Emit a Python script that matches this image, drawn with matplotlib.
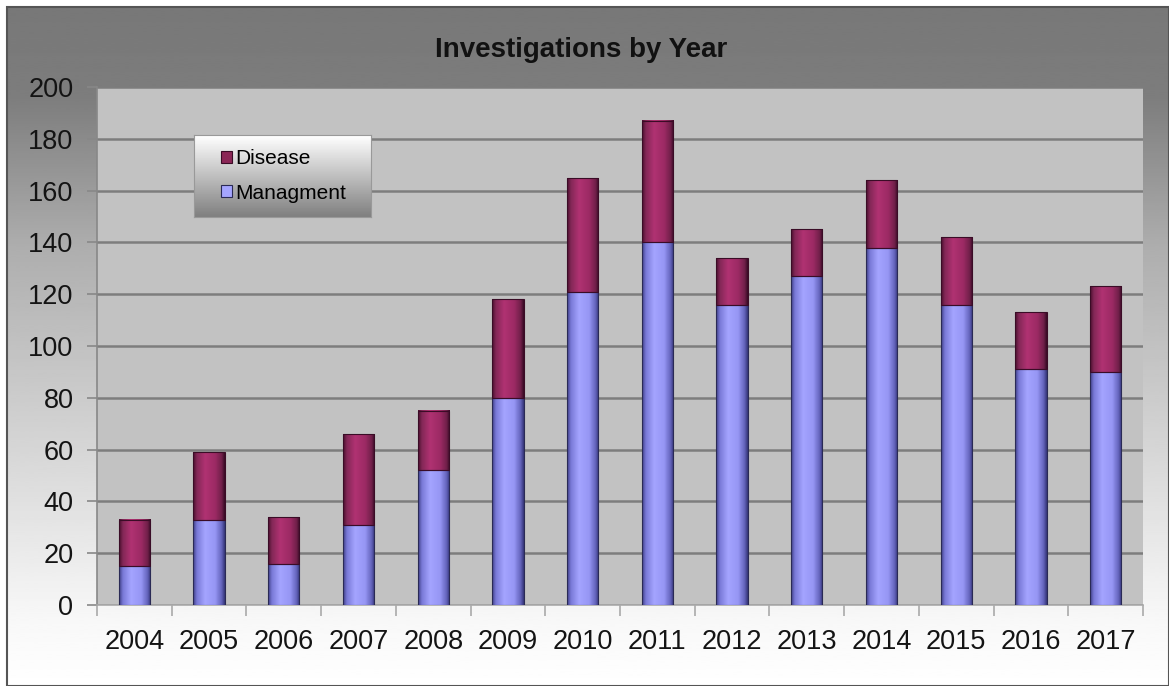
import numpy as np
import matplotlib
matplotlib.use("Agg")
import matplotlib.pyplot as plt
from matplotlib.colors import LinearSegmentedColormap
from matplotlib.patches import Rectangle

years = ["2004", "2005", "2006", "2007", "2008", "2009", "2010",
         "2011", "2012", "2013", "2014", "2015", "2016", "2017"]
managment = [15, 33, 16, 31, 52, 80, 121, 140, 116, 127, 138, 116, 91, 90]
disease = [18, 26, 18, 35, 23, 38, 44, 47, 18, 18, 26, 26, 22, 33]

plt.rcParams['font.family'] = ['Liberation Sans', 'DejaVu Sans']

fig = plt.figure(figsize=(11.69, 6.86), dpi=100)
W, H = 1169, 686

# outer chart background (grey gradient, darker at top)
bg = fig.add_axes([7 / W, 0, 1 - 7 / W, 1 - 7 / H], zorder=0)
grad_v = np.interp(np.linspace(0, 1, 300), [0, 0.13, 0.35, 0.9, 1.0],
                   [0.47, 0.49, 0.68, 0.97, 1.0])
bg.imshow(grad_v[:, None], cmap='gray', vmin=0, vmax=1, aspect='auto',
          extent=[0, 1, 0, 1], interpolation='bilinear')
bg.set_axis_off()
fig.patches.append(Rectangle((7 / W, 0), 1 - 7 / W, 1 - 7 / H, transform=fig.transFigure,
                             fill=False, edgecolor='#555555', linewidth=1.5, zorder=1))

ax = fig.add_axes([97 / W, 1 - 605 / H, (1143 - 97) / W, (605 - 87) / H], zorder=2)
x = np.arange(len(years))
ax.set_facecolor('#c2c2c2')

b1 = ax.bar(x, managment, width=0.42, color='#9999ff', edgecolor='#2a2a55',
            linewidth=0.8, label='Managment', zorder=3)
b2 = ax.bar(x, disease, width=0.42, bottom=managment, color='#993366',
            edgecolor='#3a0c26', linewidth=0.8, label='Disease', zorder=3)

cm_m = LinearSegmentedColormap.from_list('m', [(0, '#40408a'), (0.12, '#7a7ad8'), (0.38, '#a4a4ff'),
                                               (0.7, '#9696f4'), (0.9, '#6464bc'), (1, '#36367a')])
cm_d = LinearSegmentedColormap.from_list('d', [(0, '#4a1030'), (0.12, '#842857'), (0.38, '#b03272'),
                                               (0.7, '#9c2a64'), (0.9, '#72204a'), (1, '#3a0c26')])
hgrad = np.linspace(0, 1, 64)[None, :]
for bars, cm in ((b1, cm_m), (b2, cm_d)):
    for p in bars:
        x0, y0 = p.get_x(), p.get_y()
        ax.imshow(hgrad, cmap=cm, aspect='auto', interpolation='bilinear',
                  extent=[x0, x0 + p.get_width(), y0, y0 + p.get_height()], zorder=3.5)
for bars in (b1, b2):
    for p in bars:
        p.set_facecolor('none')
        p.set_zorder(4)

ax.set_xlim(-0.5, len(years) - 0.5)
ax.set_ylim(0, 200)

ax.set_yticks(np.arange(0, 201, 20))
ax.yaxis.grid(True, color='#7d7d7d', linewidth=1.8, zorder=1)
ax.set_axisbelow(True)
ax.tick_params(axis='y', labelsize=19.5, length=7, width=1.2, color='#888888', pad=10,
               labelcolor='#141414')

ax.set_xticks(x)
ax.set_xticklabels(years)
ax.set_xticks(np.arange(-0.5, len(years), 1), minor=True)
ax.tick_params(axis='x', which='major', length=0, labelsize=19.5, pad=17, labelcolor='#141414')
ax.tick_params(axis='x', which='minor', length=8, width=1.2, color='#aaaaaa')

for s in ['top', 'right']:
    ax.spines[s].set_visible(False)
ax.spines['left'].set_color('#888888')
ax.spines['bottom'].set_color('#aaaaaa')
ax.spines['left'].set_linewidth(1.2)
ax.spines['bottom'].set_linewidth(1.2)

fig.text(0.497, 1 - 50 / H, 'Investigations by Year', ha='center', va='center',
         fontsize=20, fontweight='bold', color='#111111')

# legend box with its own gradient
lax = fig.add_axes([194 / W, 1 - 217 / H, (371 - 194) / W, (217 - 135) / H], zorder=5)
lax.imshow(np.linspace(1.0, 0.5, 100)[:, None], cmap='gray', vmin=0, vmax=1,
           aspect='auto', extent=[0, 1, 0, 1])
lax.set_xticks([])
lax.set_yticks([])
for s in lax.spines.values():
    s.set_color('#999999')
leg = lax.legend([b2, b1], ['Disease', 'Managment'], loc='center left', frameon=False,
                 fontsize=15, handlelength=0.5, handleheight=0.5, handletextpad=0.2,
                 labelspacing=0.75, borderaxespad=0.9)
leg.legend_handles[0].set_facecolor('#8b2656')
leg.legend_handles[1].set_facecolor('#a5a5ff')

plt.savefig('out.png', dpi=100)
